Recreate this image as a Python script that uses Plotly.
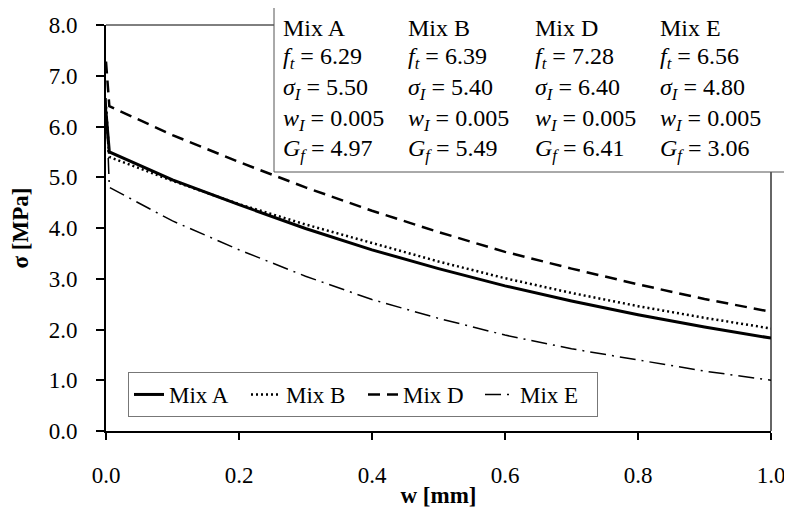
import plotly.graph_objects as go

# ---- data ----
w = [0.0, 0.005, 0.1, 0.2, 0.3, 0.4, 0.5, 0.6, 0.7, 0.8, 0.9, 1.0]
mix_a = [6.29, 5.50, 4.95, 4.46, 3.99, 3.57, 3.20, 2.86, 2.56, 2.29, 2.05, 1.83]
mix_b = [6.39, 5.40, 4.93, 4.47, 4.07, 3.70, 3.34, 3.01, 2.72, 2.46, 2.23, 2.02]
mix_d = [7.28, 6.40, 5.83, 5.30, 4.80, 4.34, 3.92, 3.53, 3.20, 2.89, 2.60, 2.35]
mix_e = [6.56, 4.80, 4.14, 3.57, 3.05, 2.59, 2.22, 1.89, 1.62, 1.40, 1.18, 1.00]

names = ["Mix A", "Mix B", "Mix D", "Mix E"]
ft = ["6.29", "6.39", "7.28", "6.56"]
sigI = ["5.50", "5.40", "6.40", "4.80"]
wI = ["0.005", "0.005", "0.005", "0.005"]
Gf = ["4.97", "5.49", "6.41", "3.06"]

FONT = "Liberation Serif"
FS = 23
OFF = 8  # page body margin
W, H = 792 - OFF, 522 - OFF
L, R, T, B = 106 - OFF, 21, 25 - OFF, 91
PW, PH = W - L - R, H - T - B

def px_x(p):
    return (p - OFF - L) / PW

def px_y(p):
    return (H - B - (p - OFF)) / PH

fig = go.Figure()
styles = [
    dict(color="black", width=3, dash="solid"),
    dict(color="black", width=2.5, dash="2px,3px"),
    dict(color="black", width=2.5, dash="12px,7px"),
    dict(color="black", width=1.5, dash="16px,6px,2px,6px"),
]
for name, ys, st in zip(names, [mix_a, mix_b, mix_d, mix_e], styles):
    fig.add_trace(go.Scatter(x=w, y=ys, mode="lines", name=name, line=st))

# parameter table box (top right)
fig.add_shape(type="rect", xref="paper", yref="paper",
              x0=px_x(274), x1=px_x(800), y0=px_y(172), y1=px_y(7),
              line=dict(color="#555555", width=1), fillcolor="white", layer="above")

col_x = [281, 406, 533, 658]
row_y = [28, 58, 89, 120, 150]
for i in range(4):
    rows = [
        names[i],
        "<i>f</i><sub><i>t</i></sub> = " + ft[i],
        "<i>σ</i><sub><i>I</i></sub> = " + sigI[i],
        "<i>w</i><sub><i>I</i></sub> = " + wI[i],
        "<i>G</i><sub><i>f</i></sub> = " + Gf[i],
    ]
    for j, txt in enumerate(rows):
        fig.add_annotation(x=px_x(col_x[i]), y=px_y(row_y[j]), xref="paper", yref="paper",
                           text=txt, showarrow=False, xanchor="left", yanchor="middle",
                           font=dict(family=FONT, size=24, color="black"))

# frame: top and right borders
fig.add_shape(type="line", xref="paper", yref="paper", x0=0, x1=1, y0=1, y1=1,
              line=dict(color="black", width=1), layer="below")
fig.add_shape(type="line", xref="paper", yref="paper", x0=1, x1=1, y0=0, y1=1,
              line=dict(color="#333333", width=1.5), layer="below")

fig.update_layout(
    width=W, height=H,
    margin=dict(l=L, r=R, t=T, b=B, autoexpand=False),
    paper_bgcolor="white", plot_bgcolor="white",
    font=dict(family=FONT, size=FS, color="black"),
    showlegend=True,
    legend=dict(orientation="h", x=px_x(128), y=px_y(417), xanchor="left", yanchor="bottom",
                bordercolor="#777777", borderwidth=1, bgcolor="white",
                font=dict(family=FONT, size=FS, color="black"),
                entrywidth=72, entrywidthmode="pixels", itemwidth=30),
    xaxis=dict(range=[0, 1], dtick=0.2, tick0=0, tickformat=".1f", showgrid=False,
               zeroline=False, showline=True, linecolor="black", linewidth=2,
               ticks="outside", ticklen=7, tickwidth=1.5, tickcolor="black",
               ticklabelstandoff=15, automargin=False,
               tickfont=dict(family=FONT, size=FS),
               title=dict(text="<b>w [mm]</b>", font=dict(family=FONT, size=FS), standoff=0)),
    yaxis=dict(range=[0, 8], dtick=1, tick0=0, tickformat=".1f", showgrid=False,
               zeroline=False, showline=True, linecolor="black", linewidth=2,
               ticks="outside", ticklen=8, tickwidth=1.5, tickcolor="black",
               ticklabelstandoff=14, automargin=False,
               tickfont=dict(family=FONT, size=FS),
               title=dict(text="<b>σ [MPa]</b>", font=dict(family=FONT, size=FS), standoff=16)),
)

fig.write_html("out.html")
